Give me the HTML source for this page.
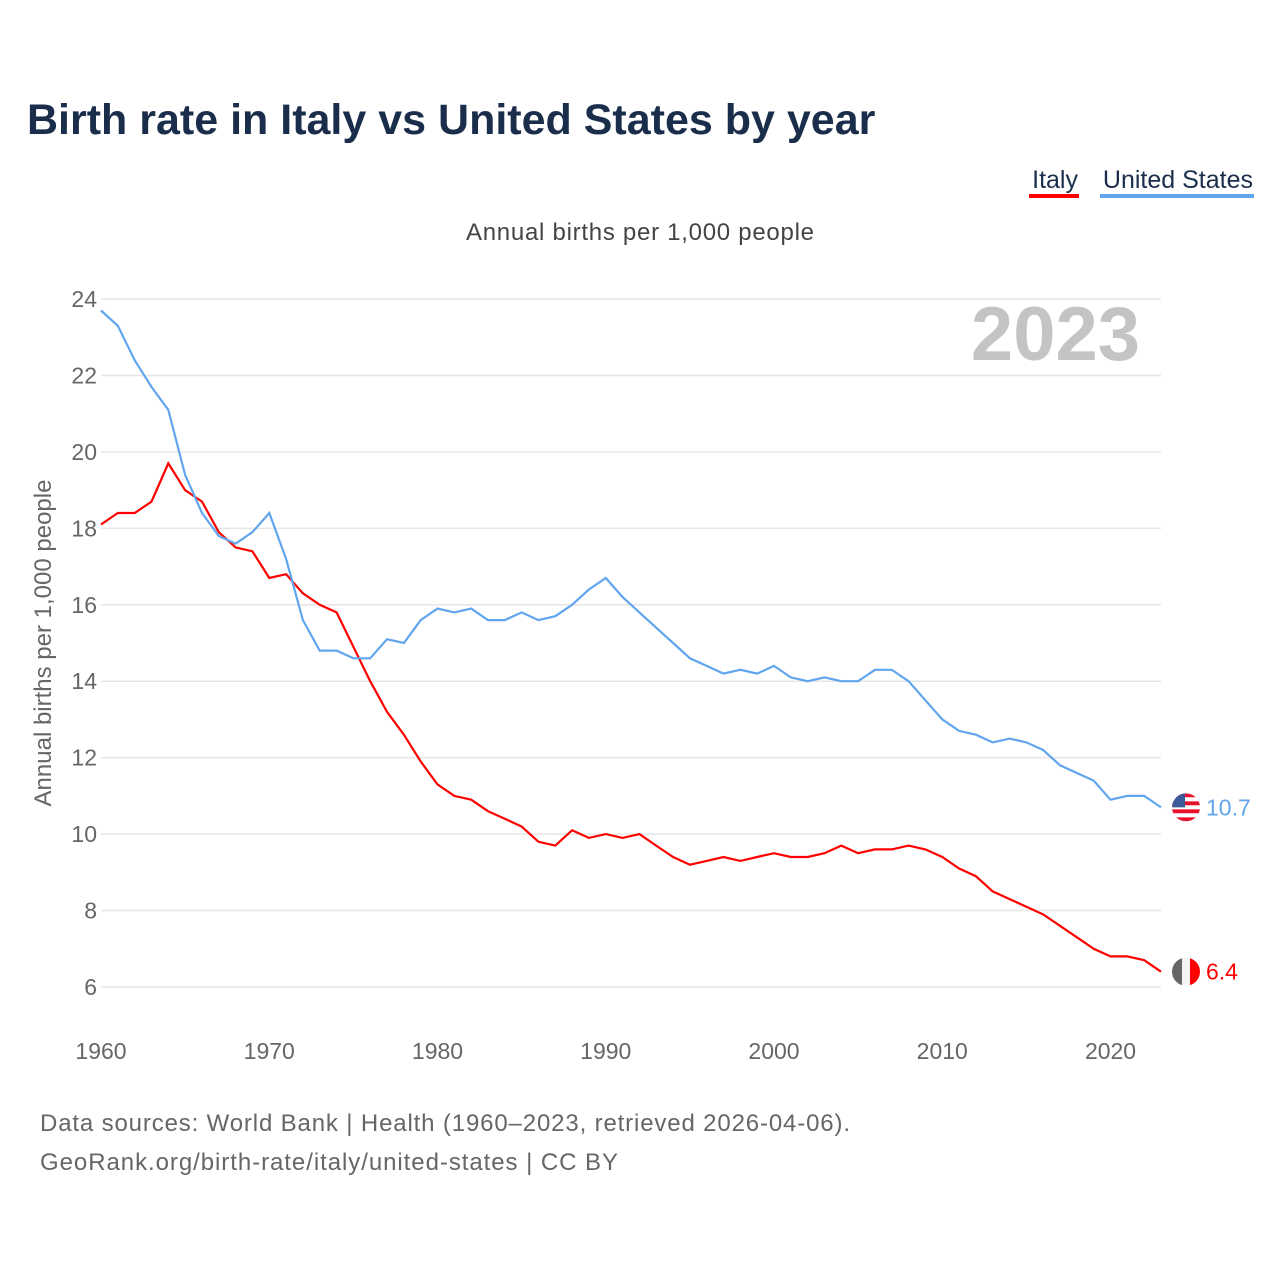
<!DOCTYPE html>
<html><head><meta charset="utf-8"><style>
body{margin:0;background:#fff;font-family:"Liberation Sans",sans-serif;}
svg{display:block}
</style></head><body>
<svg id="chart" width="1280" height="1280" xmlns="http://www.w3.org/2000/svg">
<defs>
<clipPath id="cIt"><circle id="cItC" cx="1186" cy="0" r="14"/></clipPath>
<clipPath id="cUs"><circle id="cUsC" cx="1186" cy="0" r="14"/></clipPath>
</defs>
<text x="27" y="134" font-size="43" font-weight="bold" fill="#1a2e4c">Birth rate in Italy vs United States by year</text>
<g>
<text x="1078" y="188" font-size="25" fill="#1a2e4c" text-anchor="end">Italy</text>
<rect x="1029" y="194" width="50" height="4" fill="#ff0000"/>
<text x="1253" y="188" font-size="25" fill="#1a2e4c" text-anchor="end">United States</text>
<rect x="1100" y="194" width="154" height="4" fill="#60a5ee"/>
</g>
<text x="466" y="240" font-size="24" fill="#444" textLength="348">Annual births per 1,000 people</text>
<text x="1140" y="360" font-size="76" font-weight="bold" fill="#c4c4c4" text-anchor="end">2023</text>
<text transform="translate(51,643) rotate(-90)" font-size="24" fill="#666" text-anchor="middle">Annual births per 1,000 people</text>
<g id="grid"></g><g id="lines"></g>
<text x="40" y="1131" font-size="24" fill="#666" textLength="810">Data sources: World Bank | Health (1960–2023, retrieved 2026-04-06).</text>
<text x="40" y="1170" font-size="24" fill="#666" textLength="578">GeoRank.org/birth-rate/italy/united-states | CC BY</text>
</svg>
<script>
const years=[];for(let y=1960;y<=2023;y++)years.push(y);
const italy=[18.1,18.4,18.4,18.7,19.7,19.0,18.7,17.9,17.5,17.4,16.7,16.8,16.3,16.0,15.8,14.9,14.0,13.2,12.6,11.9,11.3,11.0,10.9,10.6,10.4,10.2,9.8,9.7,10.1,9.9,10.0,9.9,10.0,9.7,9.4,9.2,9.3,9.4,9.3,9.4,9.5,9.4,9.4,9.5,9.7,9.5,9.6,9.6,9.7,9.6,9.4,9.1,8.9,8.5,8.3,8.1,7.9,7.6,7.3,7.0,6.8,6.8,6.7,6.4];
const us=[23.7,23.3,22.4,21.7,21.1,19.4,18.4,17.8,17.6,17.9,18.4,17.2,15.6,14.8,14.8,14.6,14.6,15.1,15.0,15.6,15.9,15.8,15.9,15.6,15.6,15.8,15.6,15.7,16.0,16.4,16.7,16.2,15.8,15.4,15.0,14.6,14.4,14.2,14.3,14.2,14.4,14.1,14.0,14.1,14.0,14.0,14.3,14.3,14.0,13.5,13.0,12.7,12.6,12.4,12.5,12.4,12.2,11.8,11.6,11.4,10.9,11.0,11.0,10.7];
const yTicks=[6,8,10,12,14,16,18,20,22,24];
const xTicks=[1960,1970,1980,1990,2000,2010,2020];
const NS="http://www.w3.org/2000/svg";
const X=v=>101+(v-1960)*(1060/63);
const Y=v=>987-(v-6)*(688/18);
const grid=document.getElementById('grid'),lines=document.getElementById('lines');
function mk(t,a,p){const e=document.createElementNS(NS,t);for(const k in a)e.setAttribute(k,a[k]);p.appendChild(e);return e;}
yTicks.forEach(t=>{
 const l=mk('line',{x1:101,x2:1161,y1:Y(t),y2:Y(t),stroke:'#e6e6e6','stroke-width':1.5},grid);
 
 
 const tx=mk('text',{x:97,y:Y(t)+8,'font-size':23,fill:'#666','text-anchor':'end'},grid);tx.textContent=t;
 
 
});
xTicks.forEach(t=>{
 const tx=mk('text',{x:X(t),y:1059,'font-size':23,fill:'#666','text-anchor':'middle'},grid);tx.textContent=t;
 
 
});
function series(vals,color,name){
 const d=vals.map((v,i)=>(i?'L':'M')+X(years[i]).toFixed(1)+','+Y(v).toFixed(1)).join('');
 const p=mk('path',{d:d,fill:'none',stroke:color,'stroke-width':2.2},lines);
 
 
 const last=vals[vals.length-1],cy=Y(last);
 const t=mk('text',{x:1206,y:cy+8,'font-size':23,fill:color},lines);t.textContent=last.toFixed(1);
 
 
 return cy;
}
const iy=series(italy,'#ff0000','italy');
const uy=series(us,'#60a5ee','us');
document.getElementById('cItC').setAttribute('cy',iy);
document.getElementById('cUsC').setAttribute('cy',uy);
const gi=mk('g',{'clip-path':'url(#cIt)'},lines);


mk('rect',{x:1172,y:iy-14,width:10,height:28,fill:'#666'},gi);
mk('rect',{x:1182,y:iy-14,width:8,height:28,fill:'#f4f4f4'},gi);
mk('rect',{x:1190,y:iy-14,width:10,height:28,fill:'#ff0000'},gi);
const gu=mk('g',{'clip-path':'url(#cUs)'},lines);


for(let i=0;i<7;i++)mk('rect',{x:1172,y:uy-14+i*4,width:28,height:4,fill:i%2?'#fff':'#e8102a'},gu);
mk('rect',{x:1172,y:uy-14,width:13,height:14,fill:'#3c5a9a'},gu);
</script>
</body></html>
